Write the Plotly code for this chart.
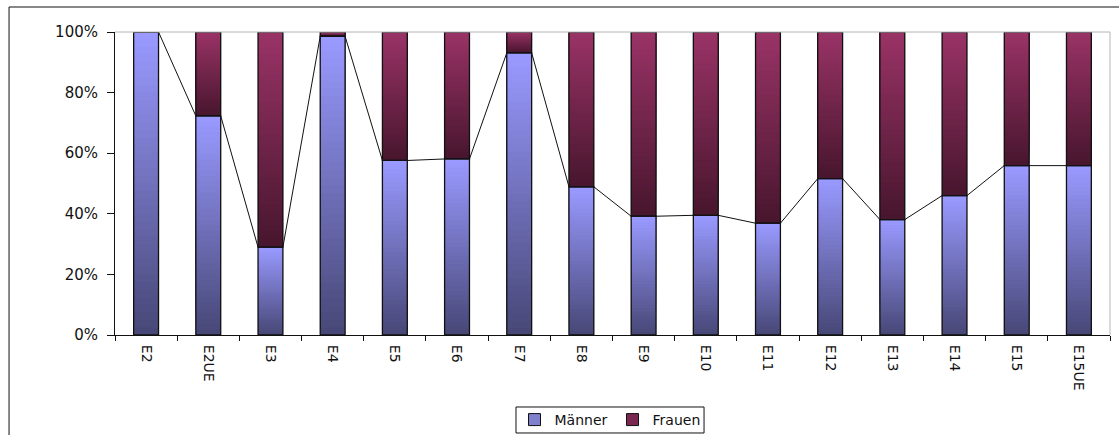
import plotly.graph_objects as go

# Pay groups and share of men / women per group (in %)
categories = ["E2", "E2UE", "E3", "E4", "E5", "E6", "E7", "E8", "E9",
              "E10", "E11", "E12", "E13", "E14", "E15", "E15UE"]
maenner = [100.0, 72.3, 29.0, 98.6, 57.6, 58.1, 93.1, 48.9, 39.2,
           39.5, 36.9, 51.6, 38.1, 46.0, 55.9, 55.9]
frauen = [round(100.0 - m, 1) for m in maenner]

series_names = ["Männer", "Frauen"]
y_ticks = [0, 20, 40, 60, 80, 100]
y_tick_labels = ["0%", "20%", "40%", "60%", "80%", "100%"]

BAR_W = 0.4
STEPS = 40
FONT = "DejaVu Sans"

# gradient end colours (bottom dark -> top light) per series
grad = {
    "Männer": ((0x48, 0x48, 0x78), (0x99, 0x99, 0xFF)),
    "Frauen": ((0x48, 0x16, 0x2E), (0x99, 0x33, 0x66)),
}


def mix(c0, c1, t):
    return "rgb({},{},{})".format(*[round(a + (b - a) * t) for a, b in zip(c0, c1)])


fig = go.Figure()

segments = {
    "Männer": ([0.0] * len(maenner), maenner),
    "Frauen": (maenner, frauen),
}

# gradient fill: overlapping slices from each step up to the segment top
for name in series_names:
    bases, heights = segments[name]
    dark, light = grad[name]
    for k in range(STEPS):
        t = k / (STEPS - 1)
        b = [b0 + h * k / STEPS for b0, h in zip(bases, heights)]
        hh = [h * (1 - k / STEPS) for h in heights]
        fig.add_trace(go.Bar(
            x=categories, y=hh, base=b, width=BAR_W,
            marker=dict(color=mix(dark, light, t), line=dict(width=0)),
            showlegend=False, hoverinfo="skip",
        ))

# outlines of every segment
for name in series_names:
    bases, heights = segments[name]
    fig.add_trace(go.Bar(
        x=categories, y=heights, base=bases, width=BAR_W,
        marker=dict(color="rgba(0,0,0,0)", line=dict(color="#111111", width=1.3)),
        showlegend=False, name=name,
    ))

# legend entries
legend_colors = {"Männer": "#8080cc", "Frauen": "#7a2850"}
for name in series_names:
    fig.add_trace(go.Bar(
        x=[None], y=[None], name=name,
        marker=dict(color=legend_colors[name], line=dict(color="#111111", width=1)),
    ))

# series lines joining the tops of the men's segments between bars
lx, ly = [], []
for i in range(len(maenner) - 1):
    lx += [i + BAR_W / 2, i + 1 - BAR_W / 2, None]
    ly += [maenner[i], maenner[i + 1], None]
fig.add_trace(go.Scatter(
    x=lx, y=ly, xaxis="x2", mode="lines",
    line=dict(color="#111111", width=1), showlegend=False, hoverinfo="skip",
))

n = len(categories)
fig.update_layout(
    width=1119, height=435,
    margin=dict(l=115, r=9, t=32, b=100, autoexpand=False),
    paper_bgcolor="white", plot_bgcolor="white",
    barmode="overlay",
    font=dict(family=FONT, size=15, color="#111111"),
    xaxis=dict(
        type="category", range=[-0.5, n - 0.5], automargin=False,
        tickson="boundaries", ticks="outside", ticklen=5, tickcolor="#111111",
        tickangle=90, tickfont=dict(size=14),
        showline=True, linecolor="#111111", linewidth=1,
        showgrid=False, zeroline=False, ticklabelstandoff=6,
    ),
    xaxis2=dict(
        overlaying="x", range=[-0.5, n - 0.5], visible=False,
    ),
    yaxis=dict(
        range=[0, 100], tickvals=y_ticks, ticktext=y_tick_labels, automargin=False,
        ticks="outside", ticklen=7, tickcolor="#111111",
        showline=True, linecolor="#111111", linewidth=1,
        showgrid=False, zeroline=False, ticklabelstandoff=6,
    ),
    legend=dict(
        orientation="h", x=0.4975, xanchor="center", y=-0.2277, yanchor="top",
        borderwidth=0, bgcolor="rgba(0,0,0,0)",
        font=dict(size=14), itemwidth=30,
    ),
    shapes=[
        # plot area frame (top and right)
        dict(type="line", xref="paper", yref="paper", x0=0, x1=1, y0=1, y1=1,
             line=dict(color="#b4b4b4", width=1)),
        dict(type="line", xref="paper", yref="paper", x0=1, x1=1, y0=0, y1=1,
             line=dict(color="#b4b4b4", width=1)),
        # chart frame
        dict(type="rect", xref="paper", yref="paper",
             x0=-0.1065, x1=1.03, y0=-0.36, y1=1.0825,
             line=dict(color="#111111", width=1)),
        # legend frame
        dict(type="rect", xref="paper", yref="paper",
             x0=0.403, x1=0.592, y0=-0.3234, y1=-0.2376,
             line=dict(color="#111111", width=1)),
    ],
)

fig.write_html("out.html")
